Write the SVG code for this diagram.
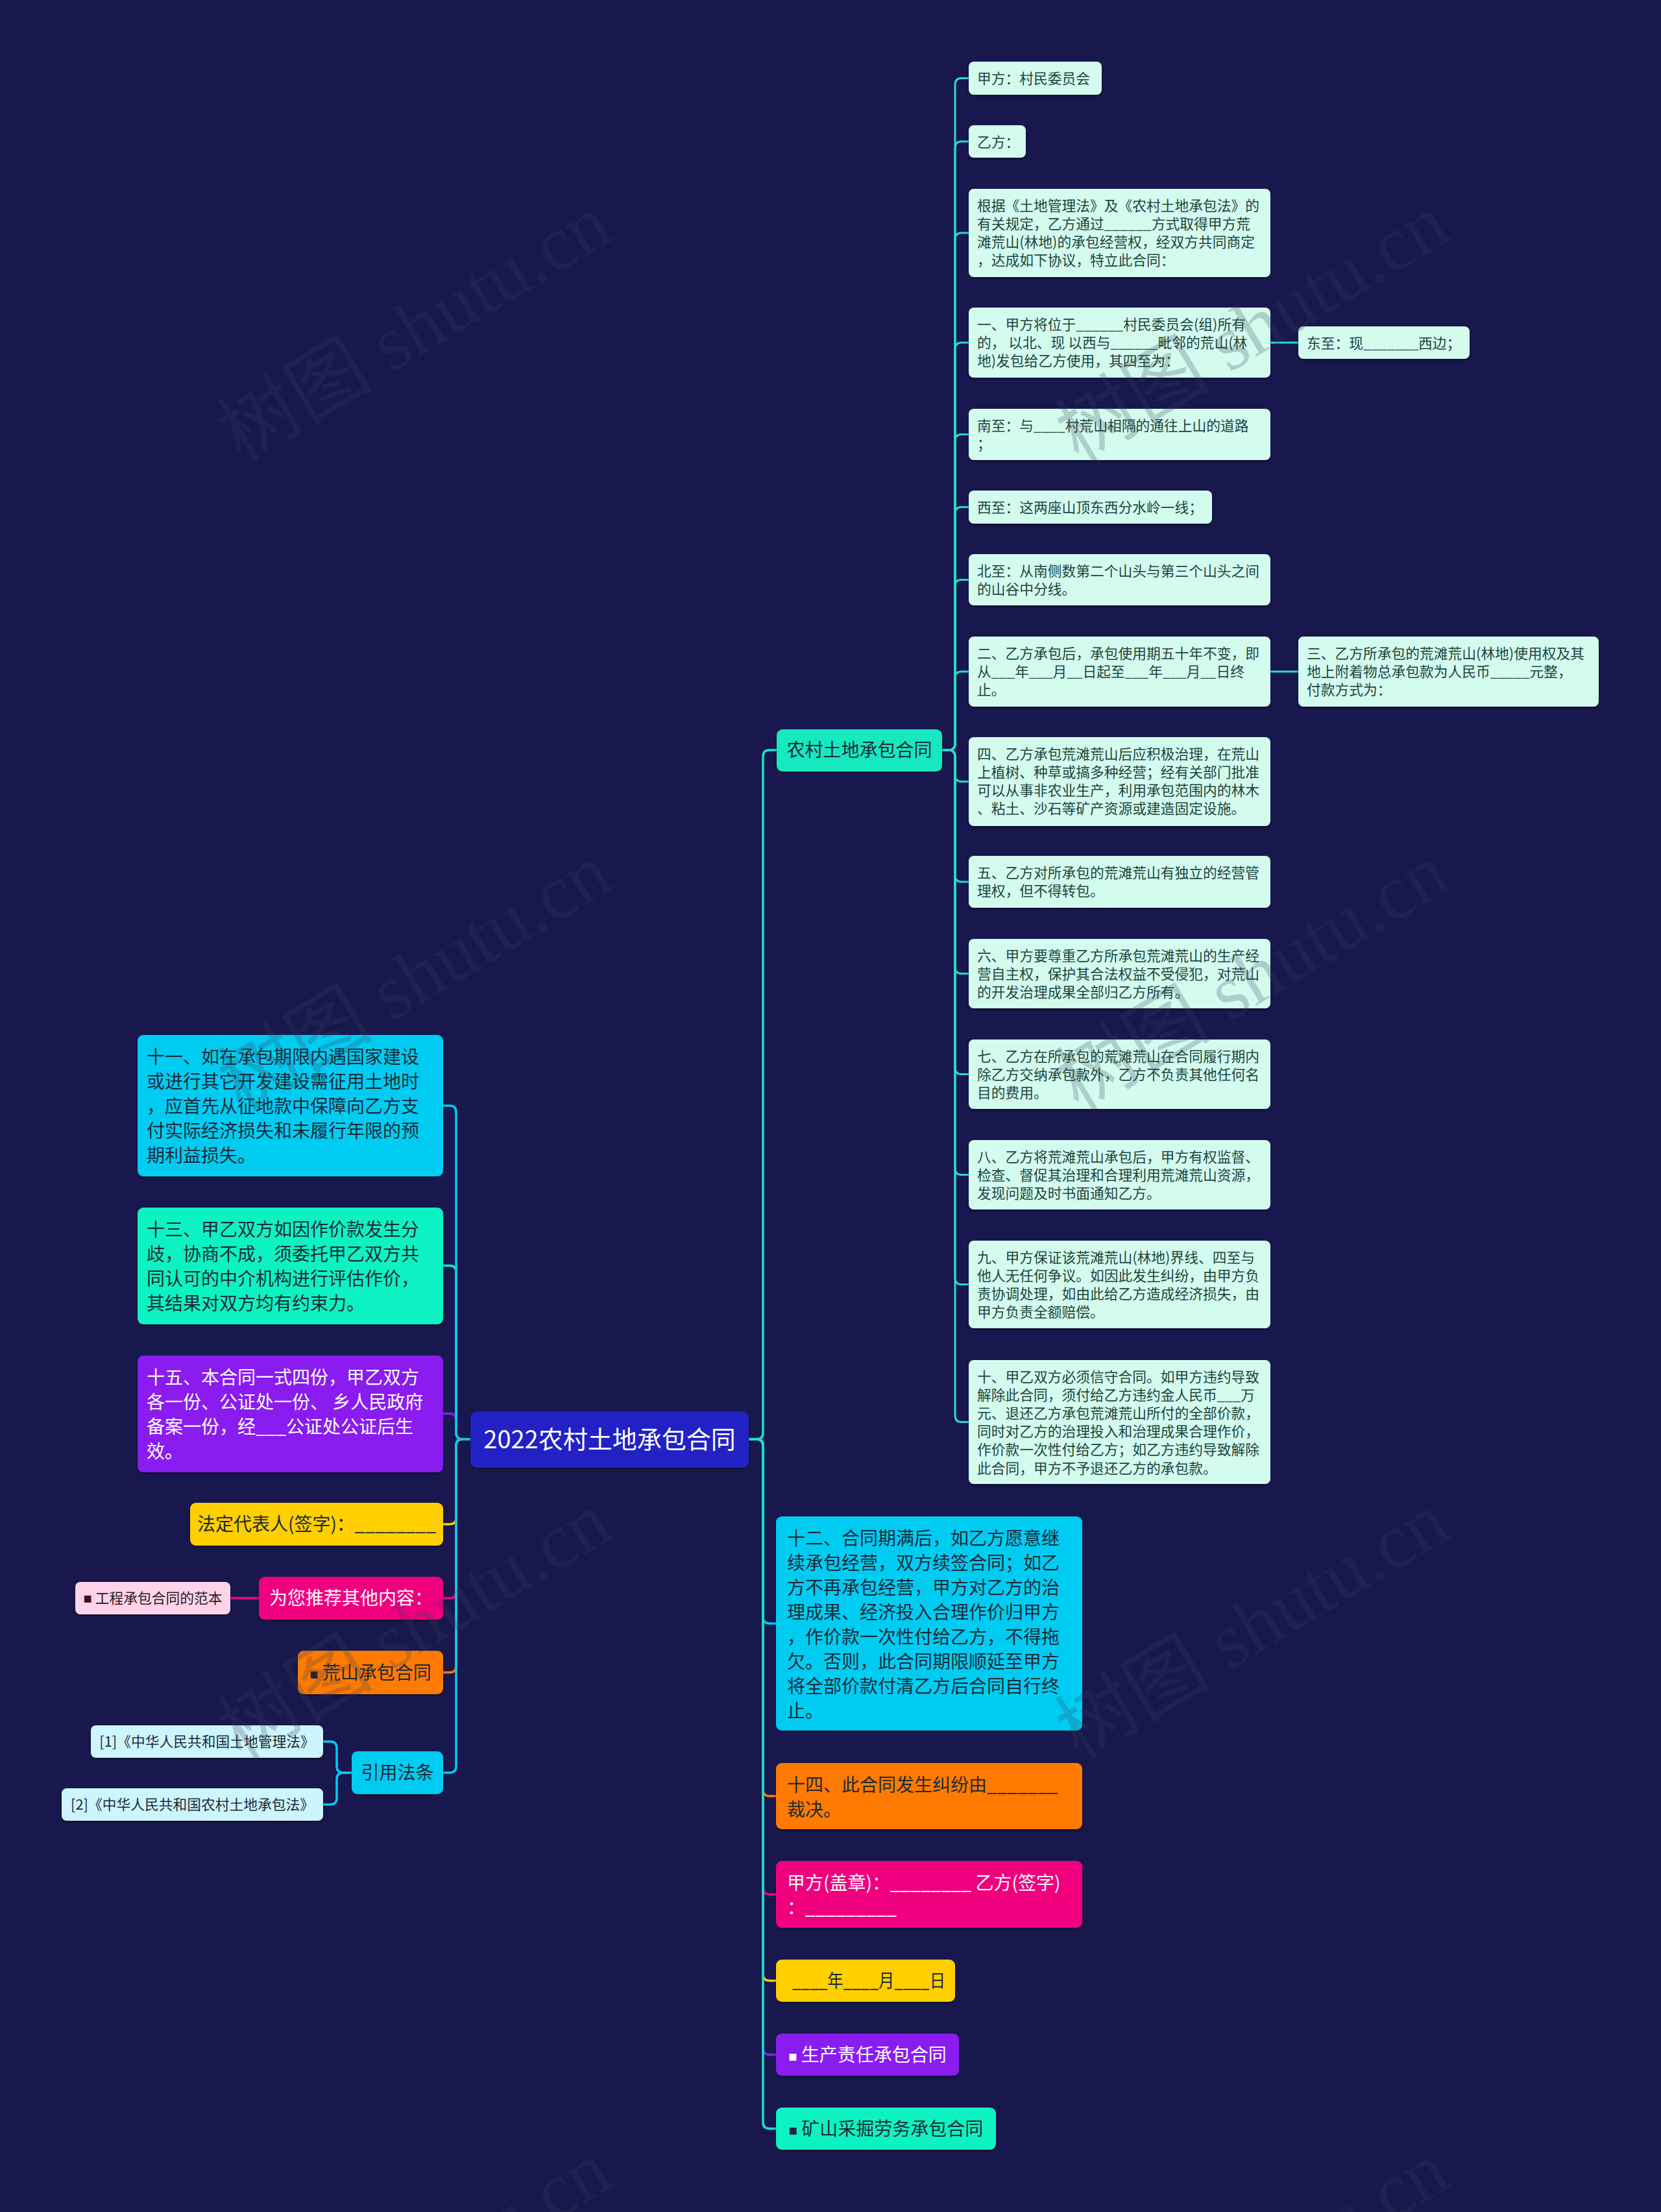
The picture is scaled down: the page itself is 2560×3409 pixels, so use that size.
<svg xmlns="http://www.w3.org/2000/svg" width="2560" height="3409" viewBox="0 0 2560 3409">
<defs>
<filter id="sh" x="-5%" y="-10%" width="110%" height="130%"><feDropShadow dx="0" dy="2" stdDeviation="2" flood-color="#000010" flood-opacity="0.45"/></filter>
<style>
.bg{fill:#18184f}
.t{font-family:"Noto Sans CJK SC","Noto Sans",sans-serif}
.leaf rect{fill:#d3fcef;filter:url(#sh)}
.leaf text{font-size:21.75px;fill:#1d443b}
.l1 text{font-size:28px}
.dark{fill:#1b2a36}
.white{fill:#ffffff}
.sq{font-family:"Liberation Sans","DejaVu Sans",sans-serif;font-size:22px}
.box{filter:url(#sh)}
.c{fill:none;stroke-width:3.5;stroke-linecap:round}
.cl{fill:none;stroke-width:3;stroke:#29dcc6}
.wm{font-family:"Liberation Serif","Noto Sans CJK SC",serif;font-size:120px;fill:#37405a;opacity:0.24}
</style>
</defs>
<rect class="bg" x="0" y="0" width="2560" height="3409"/>

<g id="connectors">
<path class="cl" d="M1452,1156 H1462 Q1472,1156 1472,1146 V130.5 Q1472,120.5 1482,120.5 H1493"/>
<path class="cl" d="M1452,1156 H1462 Q1472,1156 1472,1146 V228 Q1472,218 1482,218 H1493"/>
<path class="cl" d="M1452,1156 H1462 Q1472,1156 1472,1146 V369 Q1472,359 1482,359 H1493"/>
<path class="cl" d="M1452,1156 H1462 Q1472,1156 1472,1146 V538 Q1472,528 1482,528 H1493"/>
<path class="cl" d="M1452,1156 H1462 Q1472,1156 1472,1146 V679.5 Q1472,669.5 1482,669.5 H1493"/>
<path class="cl" d="M1452,1156 H1462 Q1472,1156 1472,1146 V791.5 Q1472,781.5 1482,781.5 H1493"/>
<path class="cl" d="M1452,1156 H1462 Q1472,1156 1472,1146 V903.5 Q1472,893.5 1482,893.5 H1493"/>
<path class="cl" d="M1452,1156 H1462 Q1472,1156 1472,1146 V1045 Q1472,1035 1482,1035 H1493"/>
<path class="cl" d="M1452,1156 H1462 Q1472,1156 1472,1166 V1194.5 Q1472,1204.5 1482,1204.5 H1493"/>
<path class="cl" d="M1452,1156 H1462 Q1472,1156 1472,1166 V1349 Q1472,1359 1482,1359 H1493"/>
<path class="cl" d="M1452,1156 H1462 Q1472,1156 1472,1166 V1490.5 Q1472,1500.5 1482,1500.5 H1493"/>
<path class="cl" d="M1452,1156 H1462 Q1472,1156 1472,1166 V1645.5 Q1472,1655.5 1482,1655.5 H1493"/>
<path class="cl" d="M1452,1156 H1462 Q1472,1156 1472,1166 V1800.5 Q1472,1810.5 1482,1810.5 H1493"/>
<path class="cl" d="M1452,1156 H1462 Q1472,1156 1472,1166 V1969.5 Q1472,1979.5 1482,1979.5 H1493"/>
<path class="cl" d="M1452,1156 H1462 Q1472,1156 1472,1166 V2181.5 Q1472,2191.5 1482,2191.5 H1493"/>
<path class="cl" d="M1958,528 H2001"/>
<path class="cl" d="M1958,1035 H2001"/>
<path class="c" stroke="#ff7a00" d="M1154,2218 H1166 Q1176,2218 1176,2228 V2758 Q1176,2768 1186,2768 H1196"/>
<path class="c" stroke="#f0067e" d="M1154,2218 H1166 Q1176,2218 1176,2228 V2909.5 Q1176,2919.5 1186,2919.5 H1196"/>
<path class="c" stroke="#ffcf00" d="M1154,2218 H1166 Q1176,2218 1176,2228 V3042.5 Q1176,3052.5 1186,3052.5 H1196"/>
<path class="c" stroke="#8a1ff0" d="M1154,2218 H1166 Q1176,2218 1176,2228 V3156.5 Q1176,3166.5 1186,3166.5 H1196"/>
<path class="c" stroke="#00ccf2" d="M1154,2218 H1166 Q1176,2218 1176,2228 V2492 Q1176,2502 1186,2502 H1196"/>
<path class="c" stroke="#10e8c0" d="M1154,2218 H1166 Q1176,2218 1176,2228 V3270.5 Q1176,3280.5 1186,3280.5 H1196"/>
<path class="c" stroke="#14e8c0" d="M1154,2218 H1166 Q1176,2218 1176,2208 V1166 Q1176,1156 1186,1156 H1197"/>
<path class="c" stroke="#0ff2c2" d="M725,2218 H713 Q703,2218 703,2208 V1960.5 Q703,1950.5 693,1950.5 H683"/>
<path class="c" stroke="#8a1ff0" d="M725,2218 H713 Q703,2218 703,2208 V2188.5 Q703,2178.5 693,2178.5 H683"/>
<path class="c" stroke="#00ccf2" d="M725,2218 H713 Q703,2218 703,2208 V1714 Q703,1704 693,1704 H683"/>
<path class="c" stroke="#ffcf00" d="M725,2218 H713 Q703,2218 703,2228 V2339 Q703,2349 693,2349 H683"/>
<path class="c" stroke="#f0067e" d="M725,2218 H713 Q703,2218 703,2228 V2453 Q703,2463 693,2463 H683"/>
<path class="c" stroke="#ff7a00" d="M725,2218 H713 Q703,2218 703,2228 V2567.5 Q703,2577.5 693,2577.5 H683"/>
<path class="c" stroke="#00ccf2" d="M725,2218 H713 Q703,2218 703,2228 V2722 Q703,2732 693,2732 H683"/>
<path class="c" stroke="#f0067e" stroke-width="3" d="M399,2463 H355"/>
<path class="c" stroke="#00ccf2" stroke-width="3" d="M542,2732 H529 Q519,2732 519,2722 V2694 Q519,2684 509,2684 H498"/>
<path class="c" stroke="#00ccf2" stroke-width="3" d="M542,2732 H529 Q519,2732 519,2742 V2771 Q519,2781 509,2781 H498"/>
</g>

<g id="node-root" class="t">
<rect class="box" x="725" y="2175" width="429" height="87" rx="10" fill="#2424c4"/>
<text x="939.5" y="2232" font-size="38" text-anchor="middle" class="white">2022农村土地承包合同</text>
</g>

<g id="node-nongcun" class="t l1">
<rect class="box" x="1197" y="1124" width="255" height="65" rx="9" fill="#14e8c0"/>
<text x="1324.5" y="1166" text-anchor="middle" class="dark">农村土地承包合同</text>
</g>

<g id="node-jiafang" class="t leaf">
<rect x="1493" y="95" width="205" height="51" rx="8"/>
<text x="1506" y="128.5">甲方：村民委员会</text>
</g>
<g id="node-yifang" class="t leaf">
<rect x="1493" y="193" width="88" height="50" rx="8"/>
<text x="1506" y="226.5">乙方：</text>
</g>
<g id="node-genju" class="t leaf">
<rect x="1493" y="291" width="465" height="136" rx="8"/>
<text x="1506" y="324.5"><tspan x="1506">根据《土地管理法》及《农村土地承包法》的</tspan><tspan x="1506" y="352.7">有关规定，乙方通过______方式取得甲方荒</tspan><tspan x="1506" y="380.9">滩荒山(林地)的承包经营权，经双方共同商定</tspan><tspan x="1506" y="409.1">，达成如下协议，特立此合同：</tspan></text>
</g>
<g id="node-yi" class="t leaf">
<rect x="1493" y="474" width="465" height="108" rx="8"/>
<text x="1506" y="507.5"><tspan x="1506">一、甲方将位于______村民委员会(组)所有</tspan><tspan x="1506" y="535.7">的， 以北、现 以西与______毗邻的荒山(林</tspan><tspan x="1506" y="563.9">地)发包给乙方使用，其四至为：</tspan></text>
</g>
<g id="node-dongzhi" class="t leaf">
<rect x="2001" y="503" width="264" height="50" rx="8"/>
<text x="2014" y="536.5">东至：现_______西边；</text>
</g>
<g id="node-nan" class="t leaf">
<rect x="1493" y="630" width="465" height="79" rx="8"/>
<text x="1506" y="663.5"><tspan x="1506">南至：与____村荒山相隔的通往上山的道路</tspan><tspan x="1506" y="691.7">；</tspan></text>
</g>
<g id="node-xi" class="t leaf">
<rect x="1493" y="756" width="375" height="51" rx="8"/>
<text x="1506" y="789.5">西至：这两座山顶东西分水岭一线；</text>
</g>
<g id="node-bei" class="t leaf">
<rect x="1493" y="854" width="465" height="79" rx="8"/>
<text x="1506" y="887.5"><tspan x="1506">北至：从南侧数第二个山头与第三个山头之间</tspan><tspan x="1506" y="915.7">的山谷中分线。</tspan></text>
</g>
<g id="node-er" class="t leaf">
<rect x="1493" y="981" width="465" height="108" rx="8"/>
<text x="1506" y="1014.5"><tspan x="1506">二、乙方承包后，承包使用期五十年不变，即</tspan><tspan x="1506" y="1042.7">从___年___月__日起至___年___月__日终</tspan><tspan x="1506" y="1070.9">止。</tspan></text>
</g>
<g id="node-san" class="t leaf">
<rect x="2001" y="981" width="463" height="108" rx="8"/>
<text x="2014" y="1014.5"><tspan x="2014">三、乙方所承包的荒滩荒山(林地)使用权及其</tspan><tspan x="2014" y="1042.7">地上附着物总承包款为人民币_____元整，</tspan><tspan x="2014" y="1070.9">付款方式为：</tspan></text>
</g>
<g id="node-si" class="t leaf">
<rect x="1493" y="1136" width="465" height="137" rx="8"/>
<text x="1506" y="1169.5"><tspan x="1506">四、乙方承包荒滩荒山后应积极治理，在荒山</tspan><tspan x="1506" y="1197.7">上植树、种草或搞多种经营；经有关部门批准</tspan><tspan x="1506" y="1225.9">可以从事非农业生产，利用承包范围内的林木</tspan><tspan x="1506" y="1254.1">、粘土、沙石等矿产资源或建造固定设施。</tspan></text>
</g>
<g id="node-wu" class="t leaf">
<rect x="1493" y="1319" width="465" height="80" rx="8"/>
<text x="1506" y="1352.5"><tspan x="1506">五、乙方对所承包的荒滩荒山有独立的经营管</tspan><tspan x="1506" y="1380.7">理权，但不得转包。</tspan></text>
</g>
<g id="node-liu" class="t leaf">
<rect x="1493" y="1447" width="465" height="107" rx="8"/>
<text x="1506" y="1480.5"><tspan x="1506">六、甲方要尊重乙方所承包荒滩荒山的生产经</tspan><tspan x="1506" y="1508.7">营自主权，保护其合法权益不受侵犯，对荒山</tspan><tspan x="1506" y="1536.9">的开发治理成果全部归乙方所有。</tspan></text>
</g>
<g id="node-qi" class="t leaf">
<rect x="1493" y="1602" width="465" height="107" rx="8"/>
<text x="1506" y="1635.5"><tspan x="1506">七、乙方在所承包的荒滩荒山在合同履行期内</tspan><tspan x="1506" y="1663.7">除乙方交纳承包款外，乙方不负责其他任何名</tspan><tspan x="1506" y="1691.9">目的费用。</tspan></text>
</g>
<g id="node-ba" class="t leaf">
<rect x="1493" y="1757" width="465" height="107" rx="8"/>
<text x="1506" y="1790.5"><tspan x="1506">八、乙方将荒滩荒山承包后，甲方有权监督、</tspan><tspan x="1506" y="1818.7">检查、督促其治理和合理利用荒滩荒山资源，</tspan><tspan x="1506" y="1846.9">发现问题及时书面通知乙方。</tspan></text>
</g>
<g id="node-jiu" class="t leaf">
<rect x="1493" y="1912" width="465" height="135" rx="8"/>
<text x="1506" y="1945.5"><tspan x="1506">九、甲方保证该荒滩荒山(林地)界线、四至与</tspan><tspan x="1506" y="1973.7">他人无任何争议。如因此发生纠纷，由甲方负</tspan><tspan x="1506" y="2001.9">责协调处理，如由此给乙方造成经济损失，由</tspan><tspan x="1506" y="2030.1">甲方负责全额赔偿。</tspan></text>
</g>
<g id="node-shi" class="t leaf">
<rect x="1493" y="2096" width="465" height="191" rx="8"/>
<text x="1506" y="2129.5"><tspan x="1506">十、甲乙双方必须信守合同。如甲方违约导致</tspan><tspan x="1506" y="2157.7">解除此合同，须付给乙方违约金人民币___万</tspan><tspan x="1506" y="2185.9">元、退还乙方承包荒滩荒山所付的全部价款，</tspan><tspan x="1506" y="2214.1">同时对乙方的治理投入和治理成果合理作价，</tspan><tspan x="1506" y="2242.3">作价款一次性付给乙方；如乙方违约导致解除</tspan><tspan x="1506" y="2270.5">此合同，甲方不予退还乙方的承包款。</tspan></text>
</g>

<g id="node-shier" class="t l1">
<rect class="box" x="1196" y="2337" width="472" height="330" rx="9" fill="#00ccf2"/>
<text x="1213" y="2381" class="dark"><tspan x="1213">十二、合同期满后，如乙方愿意继</tspan><tspan x="1213" y="2419">续承包经营，双方续签合同；如乙</tspan><tspan x="1213" y="2457">方不再承包经营，甲方对乙方的治</tspan><tspan x="1213" y="2495">理成果、经济投入合理作价归甲方</tspan><tspan x="1213" y="2533">，作价款一次性付给乙方，不得拖</tspan><tspan x="1213" y="2571">欠。否则，此合同期限顺延至甲方</tspan><tspan x="1213" y="2609">将全部价款付清乙方后合同自行终</tspan><tspan x="1213" y="2647">止。</tspan></text>
</g>
<g id="node-shisi" class="t l1">
<rect class="box" x="1196" y="2717" width="472" height="102" rx="9" fill="#ff7a00"/>
<text x="1213" y="2761" class="dark"><tspan x="1213">十四、此合同发生纠纷由_______</tspan><tspan x="1213" y="2799">裁决。</tspan></text>
</g>
<g id="node-gaizhang" class="t l1">
<rect class="box" x="1196" y="2868" width="472" height="103" rx="9" fill="#f0067e"/>
<text x="1213" y="2912" class="white"><tspan x="1213">甲方(盖章)：________ 乙方(签字)</tspan><tspan x="1213" y="2950">：_________</tspan></text>
</g>
<g id="node-riqi" class="t l1">
<rect class="box" x="1196" y="3020" width="276" height="65" rx="9" fill="#ffcf00"/>
<text x="1221" y="3063" textLength="236" lengthAdjust="spacingAndGlyphs" class="dark">____年____月____日</text>
</g>
<g id="node-shengchan" class="t l1">
<rect class="box" x="1196" y="3134" width="282" height="65" rx="9" fill="#8a1ff0"/>
<text x="1337" y="3177" text-anchor="middle" class="white"><tspan class="sq">■</tspan> 生产责任承包合同</text>
</g>
<g id="node-kuangshan" class="t l1">
<rect class="box" x="1196" y="3248" width="339" height="65" rx="9" fill="#10f2c2"/>
<text x="1365.5" y="3291" text-anchor="middle" class="dark"><tspan class="sq">■</tspan> 矿山采掘劳务承包合同</text>
</g>

<g id="node-shiyi" class="t l1">
<rect class="box" x="212" y="1595" width="471" height="218" rx="9" fill="#00ccf2"/>
<text x="226" y="1639" class="dark"><tspan x="226">十一、如在承包期限内遇国家建设</tspan><tspan x="226" y="1677">或进行其它开发建设需征用土地时</tspan><tspan x="226" y="1715">，应首先从征地款中保障向乙方支</tspan><tspan x="226" y="1753">付实际经济损失和未履行年限的预</tspan><tspan x="226" y="1791">期利益损失。</tspan></text>
</g>
<g id="node-shisan" class="t l1">
<rect class="box" x="212" y="1861" width="471" height="180" rx="9" fill="#10f2c2"/>
<text x="226" y="1905" class="dark"><tspan x="226">十三、甲乙双方如因作价款发生分</tspan><tspan x="226" y="1943">歧，协商不成，须委托甲乙双方共</tspan><tspan x="226" y="1981">同认可的中介机构进行评估作价，</tspan><tspan x="226" y="2019">其结果对双方均有约束力。</tspan></text>
</g>
<g id="node-shiwu" class="t l1">
<rect class="box" x="212" y="2089" width="471" height="180" rx="9" fill="#8a1ff0"/>
<text x="226" y="2133" class="white"><tspan x="226">十五、本合同一式四份，甲乙双方</tspan><tspan x="226" y="2171">各一份、公证处一份、 乡人民政府</tspan><tspan x="226" y="2209">备案一份，经___公证处公证后生</tspan><tspan x="226" y="2247">效。</tspan></text>
</g>
<g id="node-fading" class="t l1">
<rect class="box" x="293" y="2316" width="390" height="66" rx="9" fill="#ffcf00"/>
<text x="488" y="2359" text-anchor="middle" class="dark">法定代表人(签字)：________</text>
</g>
<g id="node-tuijian" class="t l1">
<rect class="box" x="399" y="2430" width="284" height="66" rx="9" fill="#f0067e"/>
<text x="541" y="2473" text-anchor="middle" class="white">为您推荐其他内容：</text>
</g>
<g id="node-gongcheng" class="t">
<rect class="box" x="116" y="2438" width="239" height="50" rx="8" fill="#ffd4ea"/>
<text x="235.5" y="2471" font-size="21.75" text-anchor="middle" fill="#2a1c24"><tspan class="sq" font-size="17" fill="#4a0a2a">■</tspan> 工程承包合同的范本</text>
</g>
<g id="node-huangshan" class="t l1">
<rect class="box" x="459" y="2544" width="224" height="67" rx="9" fill="#ff7a00"/>
<text x="571" y="2588" text-anchor="middle" class="dark"><tspan class="sq">■</tspan> 荒山承包合同</text>
</g>
<g id="node-yinyong" class="t l1">
<rect class="box" x="542" y="2699" width="141" height="66" rx="9" fill="#00ccf2"/>
<text x="612.5" y="2742" text-anchor="middle" class="dark">引用法条</text>
</g>
<g id="node-fa1" class="t">
<rect class="box" x="140" y="2659" width="358" height="50" rx="8" fill="#cdf5fd"/>
<text x="319" y="2692" font-size="21.75" text-anchor="middle" fill="#1b2a36">[1]《中华人民共和国土地管理法》</text>
</g>
<g id="node-fa2" class="t">
<rect class="box" x="95" y="2756" width="403" height="50" rx="8" fill="#cdf5fd"/>
<text x="296.5" y="2789" font-size="21.75" text-anchor="middle" fill="#1b2a36">[2]《中华人民共和国农村土地承包法》</text>
</g>

<g id="watermark">
<text class="wm" x="646" y="517" text-anchor="middle" dominant-baseline="middle" transform="rotate(-31 646 517)">树图 shutu.cn</text>
<text class="wm" x="1937" y="517" text-anchor="middle" dominant-baseline="middle" transform="rotate(-31 1937 517)">树图 shutu.cn</text>
<text class="wm" x="646" y="1517" text-anchor="middle" dominant-baseline="middle" transform="rotate(-31 646 1517)">树图 shutu.cn</text>
<text class="wm" x="1937" y="1517" text-anchor="middle" dominant-baseline="middle" transform="rotate(-31 1937 1517)">树图 shutu.cn</text>
<text class="wm" x="646" y="2517" text-anchor="middle" dominant-baseline="middle" transform="rotate(-31 646 2517)">树图 shutu.cn</text>
<text class="wm" x="1937" y="2517" text-anchor="middle" dominant-baseline="middle" transform="rotate(-31 1937 2517)">树图 shutu.cn</text>
<text class="wm" x="646" y="3517" text-anchor="middle" dominant-baseline="middle" transform="rotate(-31 646 3517)">树图 shutu.cn</text>
<text class="wm" x="1937" y="3517" text-anchor="middle" dominant-baseline="middle" transform="rotate(-31 1937 3517)">树图 shutu.cn</text>
</g>
</svg>
